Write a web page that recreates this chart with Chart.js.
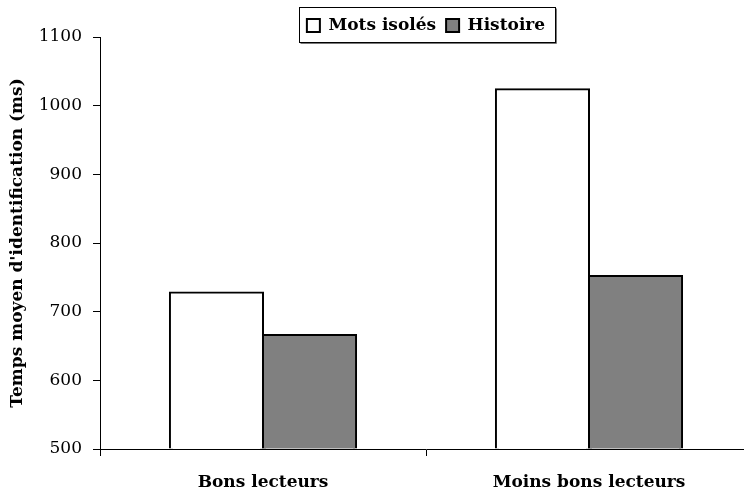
<!DOCTYPE html>
<html>
<head>
<meta charset="utf-8">
<script src="https://cdn.jsdelivr.net/npm/chart.js@4/dist/chart.umd.min.js"></script>
<style>
  html, body { margin: 0; padding: 0; background: #fff; overflow: hidden; }
  #wrap { width: 744px; height: 491px; overflow: hidden; position: relative; }
  canvas { display: block; }
</style>
</head>
<body>
<div id="wrap"><canvas id="c" width="770" height="491"></canvas></div>
<script>
const categories = ["Bons lecteurs", "Moins bons lecteurs"];
const motsIsoles = [728, 1024];
const histoire = [666, 752];
const yTitle = "Temps moyen d'identification (ms)";
const seriesNames = ["Mots isolés", "Histoire"];

const FONT = "'DejaVu Serif', serif";
const FS = 17;

const legendFrame = {
  id: 'legendFrame',
  beforeDraw(chart) {
    const lg = chart.legend;
    const ca = chart.chartArea;
    lg.left = ca.left;
    lg.right = ca.right;
    lg.width = ca.right - ca.left;
    lg.top = 7;
  },
  afterDraw(chart) {
    const lg = chart.legend;
    const pad = lg.options.labels.padding;
    const lw = lg.lineWidths[0];
    const start = (lg.left + pad + lg.right - lw) / 2;
    const content = lw - pad;
    const ctx = chart.ctx;
    ctx.save();
    const x0 = Math.round(start - 8) + 0.5;
    const x1 = Math.round(start + content + 10) + 0.5;
    const y0 = 7.5, y1 = 42.5;
    ctx.strokeStyle = '#000';
    ctx.lineWidth = 1;
    ctx.strokeRect(x0, y0, x1 - x0, y1 - y0);
    ctx.strokeStyle = '#777';
    ctx.beginPath();
    ctx.moveTo(x0 + 1, y1 + 1);
    ctx.lineTo(x1 + 1, y1 + 1);
    ctx.lineTo(x1 + 1, y0 + 1);
    ctx.stroke();
    ctx.restore();
  }
};

new Chart(document.getElementById('c'), {
  type: 'bar',
  data: {
    labels: categories,
    datasets: [
      { label: seriesNames[0], data: motsIsoles, backgroundColor: '#ffffff', borderColor: '#000000', borderWidth: 2, inflateAmount: 1 },
      { label: seriesNames[1], data: histoire, backgroundColor: '#808080', borderColor: '#000000', borderWidth: 2, inflateAmount: 1 }
    ]
  },
  options: {
    responsive: false,
    devicePixelRatio: 1,
    animation: false,
    layout: { padding: { left: 0, right: 18, top: 0, bottom: 0 } },
    datasets: { bar: { categoryPercentage: 0.571, barPercentage: 1.0, base: 500 } },
    plugins: {
      legend: {
        position: 'top',
        labels: {
          color: '#000',
          font: { family: FONT, size: FS, weight: 'bold' },
          boxWidth: 13,
          boxHeight: 13,
          padding: 10
        }
      },
      tooltip: { enabled: false }
    },
    scales: {
      x: {
        afterFit(s) { s.height = 42; },
        grid: { offset: true, drawOnChartArea: false, drawTicks: true, tickLength: 7, color: '#000', lineWidth: 1 },
        border: { display: true, color: '#000', width: 1 },
        ticks: { color: '#000', padding: 16, font: { family: FONT, size: FS, weight: 'bold' } }
      },
      y: {
        min: 500,
        max: 1100,
        afterFit(s) { s.width = 100; },
        ticks: { stepSize: 100, color: '#000', padding: 11, font: { family: FONT, size: FS },
                 callback: (v) => String(v) },
        grid: { drawOnChartArea: false, drawTicks: true, tickLength: 7, color: '#000', lineWidth: 1 },
        border: { display: true, color: '#000', width: 1 },
        title: {
          display: true,
          text: yTitle,
          color: '#000',
          font: { family: FONT, size: FS, weight: 'bold' },
          padding: { top: 7, bottom: 0 }
        }
      }
    }
  },
  plugins: [legendFrame]
});
</script>
</body>
</html>
